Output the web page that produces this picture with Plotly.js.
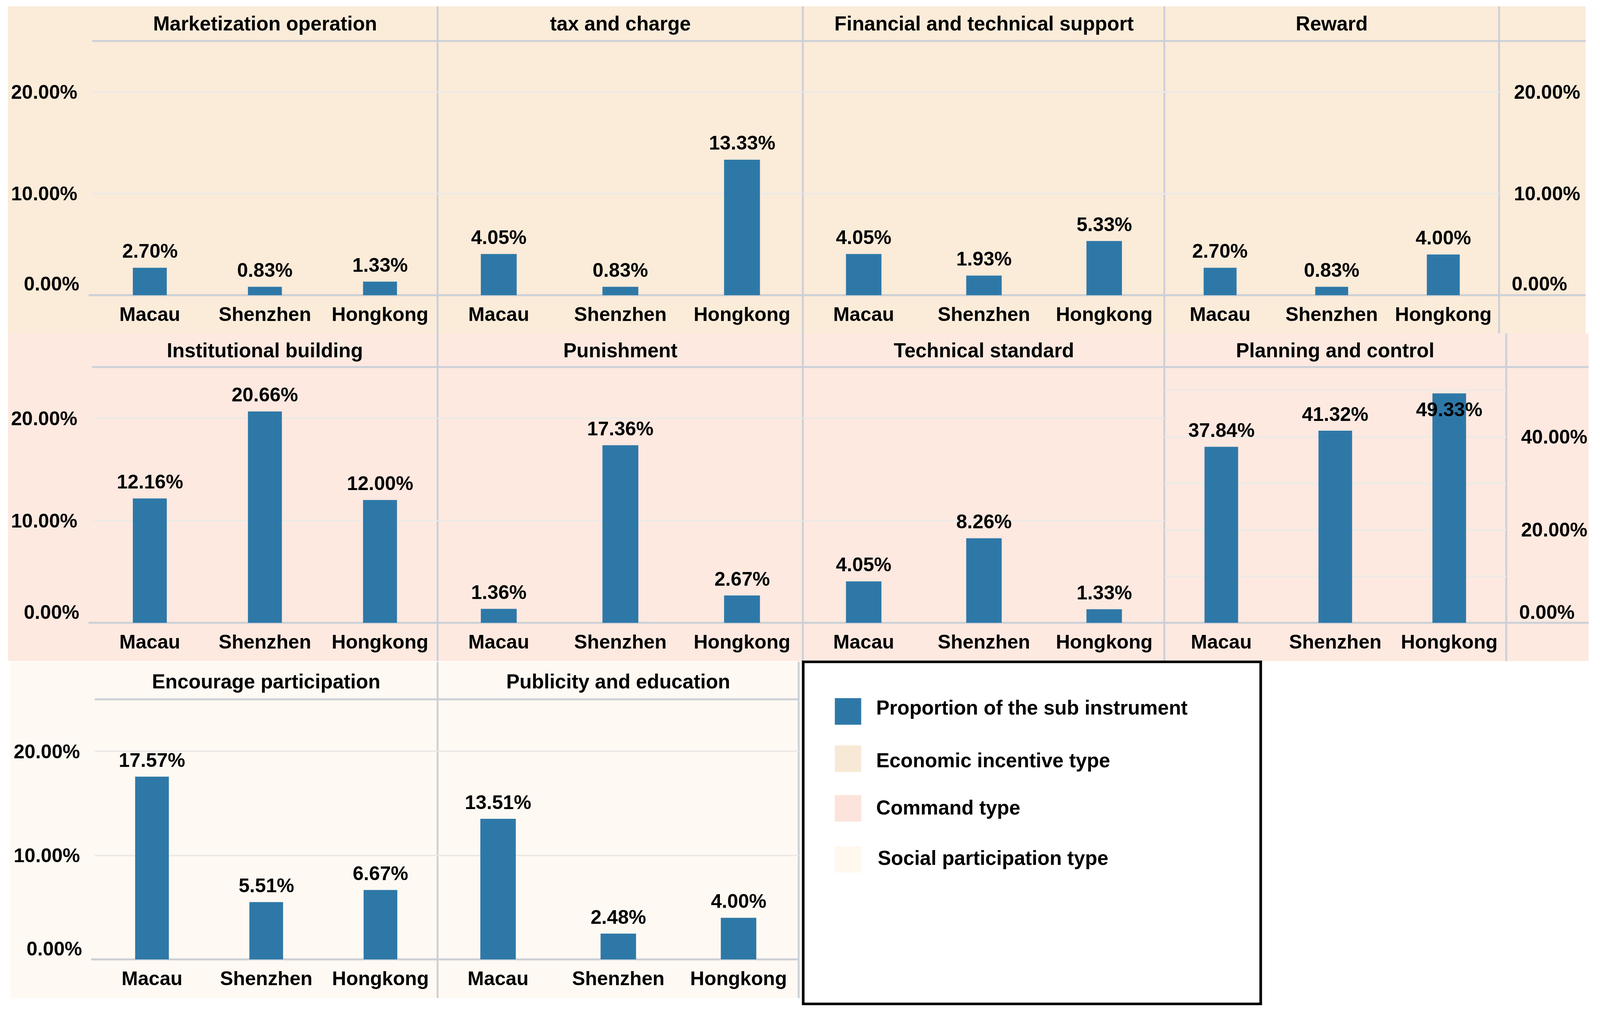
<!DOCTYPE html>
<html><head><meta charset="utf-8">
<script src="https://cdn.plot.ly/plotly-3.0.1.min.js"></script>
<style>html,body{margin:0;padding:0;background:#fff;overflow:hidden}#chart{width:100vw;height:100vh}</style>
</head><body><div id="chart"></div>
<script>
// ---------------- data ----------------
const categories = ['Macau', 'Shenzhen', 'Hongkong'];
const panelTitles = ['Marketization operation', 'tax and charge', 'Financial and technical support', 'Reward',
  'Institutional building', 'Punishment', 'Technical standard', 'Planning and control',
  'Encourage participation', 'Publicity and education'];
const marketization = [2.70, 0.83, 1.33];
const taxAndCharge = [4.05, 0.83, 13.33];
const financialTechnical = [4.05, 1.93, 5.33];
const reward = [2.70, 0.83, 4.00];
const institutionalBuilding = [12.16, 20.66, 12.00];
const punishment = [1.36, 17.36, 2.67];
const technicalStandard = [4.05, 8.26, 1.33];
const planningControl = [37.84, 41.32, 49.33];
const encourageParticipation = [17.57, 5.51, 6.67];
const publicityEducation = [13.51, 2.48, 4.00];
const yTickVals = [0, 10, 20];
const yTickText = ['0.00%', '10.00%', '20.00%'];
const planningTickVals = [0, 10, 20, 30, 40, 50];
const planningTickText = ['0.00%', '', '20.00%', '', '40.00%', ''];
const legendLabels = ['Proportion of the sub instrument', 'Economic incentive type', 'Command type', 'Social participation type'];

const seriesValues = [marketization, taxAndCharge, financialTechnical, reward,
  institutionalBuilding, punishment, technicalStandard, planningControl,
  encourageParticipation, publicityEducation];

// ---------------- layout geometry (reference px, scaled to the real viewport) ----------------
const W = 4249, H = 2602;
const VW = window.innerWidth || W, VH = window.innerHeight || H;
const S = Math.min(VW / W, VH / H);
const sz = v => v * S;
const px = v => v / W;
const py = v => 1 - v / H;
const BAR = '#2E78A8';
const LINE = '#CBD0D7';
const GRID = '#ECEAE7';
const CLEAR = 'rgba(0,0,0,0)';
const FONT = 'Liberation Sans, Arial, sans-serif';
const f = (size) => ({family: FONT, size: sz(size), color: '#000', weight: 'bold'});

const rows = [
  {top: 105, bottom: 756, bgTop: 16, bgBottom: 854, bgLeft: 21, bgRight: 4211, titleY: 60, color: '#FBEBD9', range: 25, dividers: [1162, 2132, 3092, 3981], lineLeft: 245, zeroLift: 30},
  {top: 940, bottom: 1595, bgTop: 854, bgBottom: 1693, bgLeft: 21, bgRight: 4219, titleY: 897, color: '#FDE9E0', range: 25, dividers: [1162, 2132, 3092, 4000], lineLeft: 245, zeroLift: 28},
  {top: 1791, bottom: 2457, bgTop: 1695, bgBottom: 2556, bgLeft: 27, bgRight: 2121, titleY: 1745, color: '#FEF9F2', range: 25, dividers: [1162, 2121], lineLeft: 252, zeroLift: 28}
];
const panels = [
  {row: 0, x0: 245, x1: 1162, left: true}, {row: 0, x0: 1163, x1: 2132}, {row: 0, x0: 2134, x1: 3092}, {row: 0, x0: 3092, x1: 3981, right: true},
  {row: 1, x0: 245, x1: 1162, left: true}, {row: 1, x0: 1163, x1: 2132}, {row: 1, x0: 2134, x1: 3092}, {row: 1, x0: 3092, x1: 4000, right: true, planning: true, labelBelow: [false, false, true]},
  {row: 2, x0: 252, x1: 1162, left: true}, {row: 2, x0: 1163, x1: 2121}
];
const Y_LABEL_GAP = 32;

const traces = [];
const layout = {
  width: VW, height: VH,
  margin: {l: 0, r: 0, t: 0, b: 0},
  paper_bgcolor: '#ffffff', plot_bgcolor: CLEAR,
  showlegend: false, bargap: 0.705,
  font: f(52),
  shapes: [], annotations: []
};

rows.forEach(r => {
  layout.shapes.push({type: 'rect', xref: 'paper', yref: 'paper', layer: 'below',
    x0: px(r.bgLeft), x1: px(r.bgRight), y0: py(r.bgBottom), y1: py(r.bgTop),
    fillcolor: r.color, line: {width: 0}});
});
rows.forEach(r => {
  layout.shapes.push({type: 'line', xref: 'paper', yref: 'paper', layer: 'between',
    x0: px(r.lineLeft), x1: px(r.bgRight), y0: py(r.top), y1: py(r.top), line: {color: LINE, width: sz(5)}});
  layout.shapes.push({type: 'line', xref: 'paper', yref: 'paper', layer: 'between',
    x0: px(r.lineLeft - 10), x1: px(r.bgRight), y0: py(r.bottom), y1: py(r.bottom), line: {color: LINE, width: sz(5)}});
  r.dividers.forEach(d => {
    layout.shapes.push({type: 'line', xref: 'paper', yref: 'paper', layer: 'between',
      x0: px(d), x1: px(d), y0: py(r.bgBottom), y1: py(r.bgTop), line: {color: LINE, width: sz(5)}});
  });
});

panels.forEach((p, i) => {
  const n = i + 1;
  const r = rows[p.row];
  const xa = 'xaxis' + (n === 1 ? '' : n), ya = 'yaxis' + (n === 1 ? '' : n);
  const xr = 'x' + (n === 1 ? '' : n), yr = 'y' + (n === 1 ? '' : n);
  const vals = seriesValues[i];
  traces.push({type: 'bar', x: categories, y: vals, xaxis: xr, yaxis: yr,
    marker: {color: BAR, line: {width: 0}}, hoverinfo: 'x+y'});
  layout[xa] = {domain: [px(p.x0), px(p.x1)], anchor: yr, type: 'category',
    range: [-0.5, 2.5], showgrid: false, zeroline: false, showline: false,
    ticks: 'outside', ticklen: sz(5), tickcolor: CLEAR,
    tickfont: f(52), fixedrange: true};
  const ymax = p.planning ? 55 : r.range;
  const tv = p.planning ? planningTickVals : yTickVals;
  const tt = (p.planning ? planningTickText : yTickText).map((t, k) => tv[k] === 0 ? '' : t);
  layout[ya] = {domain: [py(r.bottom), py(r.top)], anchor: xr, range: [0, ymax],
    tickmode: 'array', tickvals: tv, ticktext: tt,
    showticklabels: !!(p.left || p.right), side: p.right ? 'right' : 'left',
    showgrid: true, gridcolor: GRID, gridwidth: sz(4), zeroline: false, showline: false,
    ticks: 'outside', ticklen: sz(Y_LABEL_GAP - 4), tickcolor: CLEAR,
    tickfont: f(52), fixedrange: true};
  // the zero label sits a little above the baseline, as in the reference
  if (p.left || p.right) {
    layout.annotations.push({xref: 'paper', yref: yr,
      x: px(p.left ? p.x0 - Y_LABEL_GAP : p.x1 + Y_LABEL_GAP), y: tv[0],
      text: (p.planning ? planningTickText : yTickText)[0], showarrow: false,
      xanchor: p.left ? 'right' : 'left', yanchor: 'middle', yshift: sz(r.zeroLift), font: f(52)});
  }
  layout.annotations.push({xref: 'paper', yref: 'paper', x: px((p.x0 + p.x1) / 2), y: py(r.titleY),
    text: panelTitles[i], showarrow: false, xanchor: 'center', yanchor: 'middle', font: f(53)});
  vals.forEach((v, k) => {
    const below = p.labelBelow && p.labelBelow[k];
    layout.annotations.push({xref: xr, yref: yr, x: categories[k], y: v,
      text: v.toFixed(2) + '%', showarrow: false, xanchor: 'center', yanchor: 'middle',
      yshift: sz(below ? -43 : 44), font: f(52)});
  });
});

// legend box
layout.shapes.push({type: 'rect', xref: 'paper', yref: 'paper', layer: 'above',
  x0: px(2133), x1: px(3348), y0: py(2571), y1: py(1695), fillcolor: CLEAR, line: {color: '#000', width: sz(7)}});
const legendColors = [BAR, '#F8E9D6', '#FCE4DC', '#FEF8EF'];
const legendRows = [1822, 1943, 2070, 2201];
const legendTextY = [1812, 1947, 2068, 2197];
legendLabels.forEach((t, k) => {
  layout.shapes.push({type: 'rect', xref: 'paper', yref: 'paper', layer: 'above',
    x0: px(2217), x1: px(2287), y0: py(legendRows[k] + 34), y1: py(legendRows[k] - 34),
    fillcolor: legendColors[k], line: {width: 0}});
  layout.annotations.push({xref: 'paper', yref: 'paper', x: px(2325 + (k === 3 ? 4 : 0)), y: py(legendTextY[k]),
    text: t, showarrow: false, xanchor: 'left', yanchor: 'middle', font: f(53)});
});

Plotly.newPlot('chart', traces, layout, {staticPlot: true, displayModeBar: false});
</script>
</body></html>
